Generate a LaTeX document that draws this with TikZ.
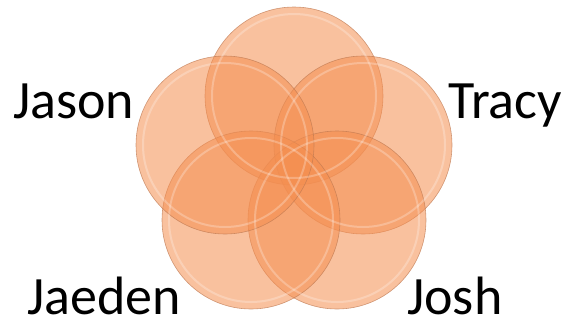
\documentclass[tikz,border=0pt]{standalone}
\usepackage{fontspec}
\setmainfont{Carlito}
\definecolor{bub}{RGB}{244,142,79}
\definecolor{bubline}{RGB}{190,120,80}
\tikzset{
  bubble/.style={circle, minimum size=178pt, inner sep=0pt, fill=bub, fill opacity=0.55, draw=bubline, draw opacity=0.7, line width=0.6pt},
  shine/.style={circle, minimum size=164pt, inner sep=0pt, draw=white, draw opacity=0.25, line width=2pt},
  lbl/.style={anchor=base west, inner sep=0pt, font=\fontsize{54}{60}\selectfont}
}
\begin{document}
\begin{tikzpicture}[x=1pt,y=-1pt]
\useasboundingbox (0,0) rectangle (567,322);
\node[bubble] (top) at (294,96) {};
\node[bubble] (right) at (363,145) {};
\node[bubble] (bright) at (337,220) {};
\node[bubble] (bleft) at (251,220) {};
\node[bubble] (left) at (225,145) {};
\node[shine] (stop) at (top) {};
\node[shine] (sright) at (right) {};
\node[shine] (sbright) at (bright) {};
\node[shine] (sbleft) at (bleft) {};
\node[shine] (sleft) at (left) {};
\node[lbl] (jason) at (13,118) {Jason};
\node[lbl] (tracy) at (448,118) {Tracy};
\node[lbl] (jaeden) at (27,314) {Jaeden};
\node[lbl] (josh) at (407,314) {Josh};
\end{tikzpicture}
\end{document}
